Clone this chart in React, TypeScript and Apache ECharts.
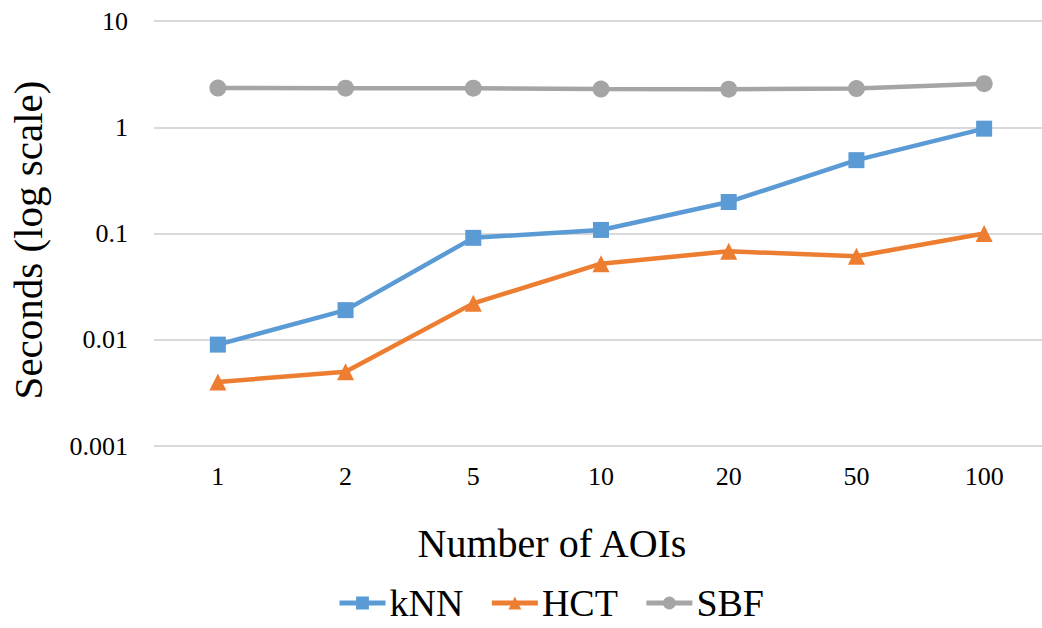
import React, { useEffect, useRef } from "react";
import * as echarts from "echarts";

const categories = ["1", "2", "5", "10", "20", "50", "100"];
const knn = [0.009, 0.019, 0.091, 0.108, 0.198, 0.49, 0.97];
const hct = [0.004, 0.005, 0.022, 0.052, 0.068, 0.061, 0.1];
const sbf = [2.34, 2.33, 2.33, 2.29, 2.28, 2.31, 2.57];
const seriesNames = ["kNN", "HCT", "SBF"];

const FONT = "Liberation Serif, Times New Roman, serif";

export default function App() {
  const ref = useRef<HTMLDivElement>(null);
  useEffect(() => {
    if (!ref.current) return;
    const chart = echarts.init(ref.current, null, { renderer: "svg" });
    const mk = (name: string, data: number[], color: string, symbol: string, size: number) => ({
      name,
      type: "line",
      data,
      symbol,
      symbolSize: size,
      showSymbol: true,
      lineStyle: { width: 4.5, color },
      itemStyle: { color },
      emphasis: { disabled: true },
    });
    chart.setOption({
      animation: false,
      backgroundColor: "#ffffff",
      textStyle: { fontFamily: FONT },
      grid: { left: 154, right: 0, top: 21, bottom: 182, containLabel: false },
      xAxis: {
        type: "category",
        data: categories,
        boundaryGap: true,
        axisLine: { show: false },
        axisTick: { show: false },
        axisLabel: { fontFamily: FONT, fontSize: 26, color: "#000", margin: 17 },
      },
      yAxis: {
        type: "log",
        logBase: 10,
        min: 0.001,
        max: 10,
        axisLine: { show: false },
        axisTick: { show: false },
        splitLine: { show: true, lineStyle: { color: "#D9D9D9", width: 2 } },
        axisLabel: {
          fontFamily: FONT,
          fontSize: 26,
          color: "#000",
          margin: 26,
          formatter: (v: number) => String(parseFloat(v.toPrecision(3))),
        },
      },
      legend: {
        data: seriesNames,
        top: 583,
        left: 337,
        padding: 0,
        itemWidth: 46,
        itemHeight: 16,
        itemGap: 26,
        lineStyle: { width: 5 },
        textStyle: { fontFamily: FONT, fontSize: 38, lineHeight: 40, color: "#000", padding: [0, 0, 0, -1] },
      },
      graphic: [
        {
          type: "text",
          x: 28,
          y: 240,
          rotation: Math.PI / 2,
          style: {
            text: "Seconds (log scale)",
            fontFamily: FONT,
            fontSize: 41,
            fill: "#000",
            align: "center",
            verticalAlign: "middle",
          },
        },
        {
          type: "text",
          x: 552,
          y: 543,
          style: {
            text: "Number of AOIs",
            fontFamily: FONT,
            fontSize: 40,
            fill: "#000",
            align: "center",
            verticalAlign: "middle",
          },
        },
      ],
      series: [
        mk("kNN", knn, "#5B9BD5", "rect", 16),
        mk("HCT", hct, "#ED7D31", "triangle", 17),
        mk("SBF", sbf, "#A5A5A5", "circle", 17),
      ],
    });
    return () => chart.dispose();
  }, []);
  return (
    <div
      ref={ref}
      style={{ position: "fixed", left: 0, top: 0, width: 1048, height: 628, background: "#fff" }}
    />
  );
}
